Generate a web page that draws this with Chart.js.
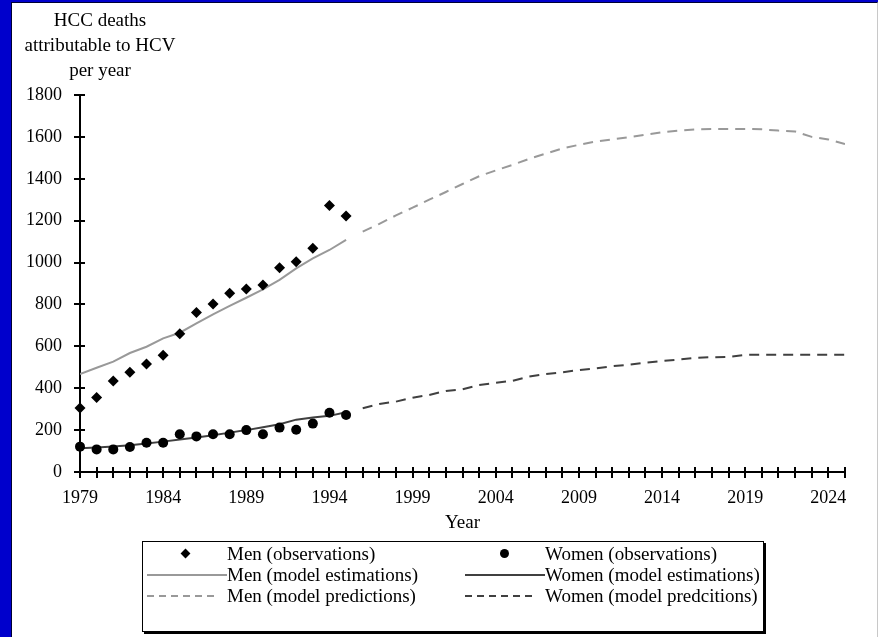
<!DOCTYPE html>
<html>
<head>
<meta charset="utf-8">
<script src="https://cdn.jsdelivr.net/npm/chart.js@4/dist/chart.umd.min.js"></script>
<style>
  html, body { margin: 0; padding: 0; }
  body {
    width: 878px; height: 637px; position: relative; overflow: hidden;
    background: #0000cc;
    font-family: 'Liberation Serif', 'Times New Roman', serif;
    color: #000;
  }
  .panel {
    position: absolute; left: 11px; top: 2px; width: 865px; height: 640px;
    background: #fff;
    border-left: 1px solid #000033; border-top: 1px solid #000033;
    border-right: 1px solid #c8c8c8;
  }
  .chart-wrap { position: absolute; left: 0; top: 0; width: 878px; height: 637px; }
  .y-title {
    position: absolute; left: 0; top: 7px; width: 200px;
    text-align: center; font-size: 19px; line-height: 25px;
  }
  .legend {
    position: absolute; left: 142px; top: 541px; width: 620px; height: 89px;
    border: 1px solid #000; box-shadow: 2px 2px 0 #000; background: #fff;
  }
  .legend-item {
    position: absolute; height: 21px; display: flex; align-items: center;
    font-size: 19px; white-space: nowrap;
  }
  .sym { position: relative; width: 80px; height: 21px; flex: none; }
  .sym .diamond {
    position: absolute; left: 35px; top: 7px; width: 7px; height: 7px;
    background: #000; transform: rotate(45deg);
  }
  .sym .dot {
    position: absolute; left: 35px; top: 6px; width: 9px; height: 9px;
    background: #000; border-radius: 50%;
  }
  .sym .solid { position: absolute; left: 0; top: 10px; width: 80px; height: 2px; }
  .sym .dash { position: absolute; left: 0; top: 10px; width: 70px; height: 2px; }
</style>
</head>
<body>
<div class="panel"></div>
<div class="chart-wrap"><canvas id="lineChart"></canvas></div>
<div class="y-title">HCC deaths<br>attributable to HCV<br>per year</div>
<div class="legend" id="legend"></div>

<script>
// data
const obsYears = [1979, 1980, 1981, 1982, 1983, 1984, 1985, 1986, 1987, 1988, 1989, 1990, 1991, 1992, 1993, 1994, 1995];
const menObs = [305, 356, 434, 476, 516, 557, 660, 761, 802, 853, 874, 893, 975, 1004, 1068, 1272, 1222];
const womenObs = [121, 108, 108, 119, 140, 140, 180, 170, 180, 180, 200, 180, 212, 202, 231, 283, 272];
const menEst = [468, 498, 527, 568, 598, 638, 665, 710, 753, 793, 832, 872, 917, 972, 1020, 1060, 1108];
const womenEst = [113, 117, 122, 128, 136, 145, 155, 165, 176, 188, 200, 214, 228, 250, 260, 268, 285];

const predYears = [1996, 1997, 1998, 1999, 2000, 2001, 2002, 2003, 2004, 2005, 2006, 2007, 2008, 2009, 2010,
  2011, 2012, 2013, 2014, 2015, 2016, 2017, 2018, 2019, 2020, 2021, 2022, 2023, 2024, 2025];
const menPred = [1148, 1185, 1225, 1262, 1300, 1337, 1375, 1412, 1440, 1466, 1495, 1520, 1545, 1562, 1578,
  1588, 1598, 1610, 1622, 1630, 1636, 1638, 1638, 1638, 1636, 1630, 1626, 1600, 1588, 1566];
const womenPred = [304, 325, 336, 355, 368, 387, 395, 415, 426, 435, 456, 468, 476, 487, 495,
  505, 512, 522, 530, 537, 545, 548, 550, 559, 560, 560, 560, 560, 560, 560];

const yearLabelStep = 5;
const xTitle = 'Year';

const MEN_GREY = '#999999';
const WOMEN_GREY = '#404040';

// utils
function $(selector) {
  return document.querySelector(selector);
}
function toPoints(xs, ys) {
  return xs.map((x, i) => ({ x: x, y: ys[i] }));
}

// tick marks that cross the axis lines
const crossTicks = {
  id: 'crossTicks',
  afterDatasetsDraw(chart) {
    const { ctx } = chart;
    const x = chart.scales.x;
    const y = chart.scales.y;
    const y0 = y.getPixelForValue(0);
    const x0 = x.getPixelForValue(x.min);
    ctx.save();
    ctx.strokeStyle = '#000';
    ctx.lineWidth = 2;
    ctx.beginPath();
    x.ticks.forEach(t => {
      const px = Math.round(x.getPixelForValue(t.value));
      ctx.moveTo(px, y0 - 5);
      ctx.lineTo(px, y0 + 6);
    });
    y.ticks.forEach(t => {
      const py = Math.round(y.getPixelForValue(t.value));
      ctx.moveTo(x0 - 6, py);
      ctx.lineTo(x0 + 5, py);
    });
    ctx.stroke();
    ctx.restore();
  }
};

const datasets = [
  {
    label: 'Men (observations)',
    data: toPoints(obsYears, menObs),
    showLine: false,
    pointStyle: 'rectRot',
    pointRadius: 5.5,
    backgroundColor: '#000',
    borderColor: '#000',
    borderWidth: 0,
    clip: false,
    order: 0,
    legendSym: 'diamond'
  },
  {
    label: 'Women (observations)',
    data: toPoints(obsYears, womenObs),
    showLine: false,
    pointStyle: 'circle',
    pointRadius: 5,
    backgroundColor: '#000',
    borderColor: '#000',
    borderWidth: 0,
    clip: false,
    order: 0,
    legendSym: 'dot'
  },
  {
    label: 'Men (model estimations)',
    data: toPoints(obsYears, menEst),
    borderColor: MEN_GREY,
    borderWidth: 2,
    pointRadius: 0,
    order: 1,
    legendSym: 'solid'
  },
  {
    label: 'Women (model estimations)',
    data: toPoints(obsYears, womenEst),
    borderColor: WOMEN_GREY,
    borderWidth: 2,
    pointRadius: 0,
    order: 1,
    legendSym: 'solid'
  },
  {
    label: 'Men (model predictions)',
    data: toPoints(predYears, menPred),
    borderColor: MEN_GREY,
    borderWidth: 2,
    borderDash: [10, 7],
    pointRadius: 0,
    order: 1,
    legendSym: 'dash'
  },
  {
    label: 'Women (model predcitions)',
    data: toPoints(predYears, womenPred),
    borderColor: WOMEN_GREY,
    borderWidth: 2,
    borderDash: [10, 7],
    pointRadius: 0,
    order: 1,
    legendSym: 'dash'
  }
];

Chart.defaults.font.family = "'Liberation Serif', 'Times New Roman', serif";
Chart.defaults.color = '#000';

const chart = new Chart($('#lineChart').getContext('2d'), {
  type: 'line',
  data: { datasets },
  plugins: [crossTicks],
  options: {
    responsive: true,
    maintainAspectRatio: false,
    animation: false,
    layout: { padding: { left: 0, top: 95, right: 33, bottom: 103 } },
    elements: { line: { tension: 0 } },
    plugins: {
      legend: { display: false },
      tooltip: { enabled: false }
    },
    scales: {
      x: {
        type: 'linear',
        min: 1979,
        max: 2025,
        grid: { drawOnChartArea: false, drawTicks: false },
        border: { color: '#000', width: 2 },
        ticks: {
          stepSize: 1,
          autoSkip: false,
          maxRotation: 0,
          padding: 15,
          font: { size: 18 },
          callback: v => ((v - obsYears[0]) % yearLabelStep === 0 ? String(v) : '')
        },
        title: { display: true, text: xTitle, font: { size: 19 }, padding: 0 },
        afterFit: scale => { scale.height = 62; }
      },
      y: {
        min: 0,
        max: 1800,
        grid: { drawOnChartArea: false, drawTicks: false },
        border: { color: '#000', width: 2 },
        ticks: { stepSize: 200, padding: 18, font: { size: 18 }, callback: v => String(v) },
        afterFit: scale => { scale.width = 80; }
      }
    }
  }
});

// html legend, two columns
function buildLegend() {
  const legend = $('#legend');
  const colX = [4, 322];
  const rowY = [1, 22, 43];
  chart.data.datasets.forEach((ds, i) => {
    const item = document.createElement('div');
    item.setAttribute('class', 'legend-item');
    item.style.left = colX[i % 2] + 'px';
    item.style.top = rowY[Math.floor(i / 2)] + 'px';
    const sym = document.createElement('div');
    sym.setAttribute('class', 'sym');
    const mark = document.createElement('div');
    mark.setAttribute('class', ds.legendSym);
    if (ds.legendSym === 'solid') {
      mark.style.background = ds.borderColor;
    }
    if (ds.legendSym === 'dash') {
      mark.style.background = `repeating-linear-gradient(to right, ${ds.borderColor} 0 7px, transparent 7px 12px)`;
    }
    sym.appendChild(mark);
    const span = document.createElement('span');
    span.textContent = ds.label;
    item.appendChild(sym);
    item.appendChild(span);
    legend.appendChild(item);
  });
}
buildLegend();
</script>
</body>
</html>
